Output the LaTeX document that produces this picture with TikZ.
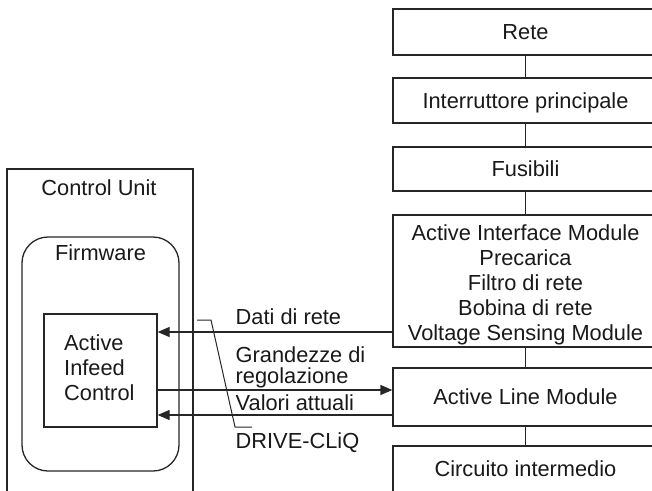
\documentclass[tikz,border=0pt]{standalone}
\usepackage{fontspec}
\setmainfont{Liberation Sans}
\usetikzlibrary{arrows.meta}
\begin{document}
\begin{tikzpicture}[x=1pt,y=-1pt,
  line/.style={draw=black!85, line width=1.3pt},
  txt/.style={font=\fontsize{21.8}{25}\selectfont, text=black!90},
  lbl/.style={txt, inner sep=0pt, text height=15.6pt, text depth=0pt},
  blk/.style={line, lbl, minimum width=265pt},
  arr/.style={line, -{Triangle[length=12pt,width=10pt]}}]
\clip (0,0) rectangle (652,490);

% supply chain on the right
\node[blk, minimum height=46pt]  (rete) at (525.5,32)    {Rete};
\node[blk, minimum height=45pt]  (int)  at (525.5,100.5) {Interruttore principale};
\node[blk, minimum height=44pt]  (fus)  at (525.5,169)   {Fusibili};
\node[blk, minimum height=132pt] (aim)  at (525.5,281)   {};
\node[txt, align=center, inner sep=0pt] (aimtext) at (525.5,284.6)
  {Active Interface Module\\Precarica\\Filtro di rete\\Bobina di rete\\Voltage Sensing Module};
\node[blk, minimum height=58pt]  (alm)  at (525.5,397)   {Active Line Module};
\node[blk, minimum height=46pt]  (ci)   at (525.5,469)   {Circuito intermedio};

\draw[line] (rete) -- (int);
\draw[line] (int) -- (fus);
\draw[line] (fus) -- (aim);
\draw[line] (aim) -- (alm);
\draw[line] (alm) -- (ci);

% control unit on the left
\node[line, minimum width=186pt, minimum height=340pt, inner sep=0pt] (cu) at (100,339) {};
\node[lbl] (cutext) at (99,187.5) {Control Unit};
\node[line, rounded corners=26pt, minimum width=157pt, minimum height=234pt, inner sep=0pt] (fw) at (100.5,354) {};
\node[lbl] (fwtext) at (100.5,253) {Firmware};
\node[line, minimum width=113pt, minimum height=113pt, inner sep=0pt] (aic) at (100.5,370.5) {};
\node[txt, align=left, anchor=west, inner sep=0pt] (aictext) at (64,367.5) {Active\\Infeed\\Control};

% signal connections
\coordinate (ydati) at (0,332);
\coordinate (ygr) at (0,390);
\coordinate (yval) at (0,415);
\draw[arr] (aim.west |- ydati) -- (aic.east |- ydati);
\draw[arr] (aic.east |- ygr) -- (alm.west |- ygr);
\draw[arr] (alm.west |- yval) -- (aic.east |- yval);

\node[lbl, anchor=base west] (ldati) at (235.5,324.5) {Dati di rete};
\node[lbl, anchor=base west] (lgr1) at (235.5,362.5) {Grandezze di};
\node[lbl, anchor=base west] (lgr2) at (235.5,383) {regolazione};
\node[lbl, anchor=base west] (lval) at (235.5,410) {Valori attuali};
\node[lbl, anchor=base west] (ldcq) at (235.5,448.5) {DRIVE-CLiQ};

% DRIVE-CLiQ leader
\coordinate (d1) at (197,320);
\coordinate (d2) at (211,320);
\coordinate (d3) at (235,427);
\coordinate (d4) at (252,427);
\draw[draw=black!85, line width=1pt] (d1) -- (d2) -- (d3) -- (d4);
\end{tikzpicture}
\end{document}
